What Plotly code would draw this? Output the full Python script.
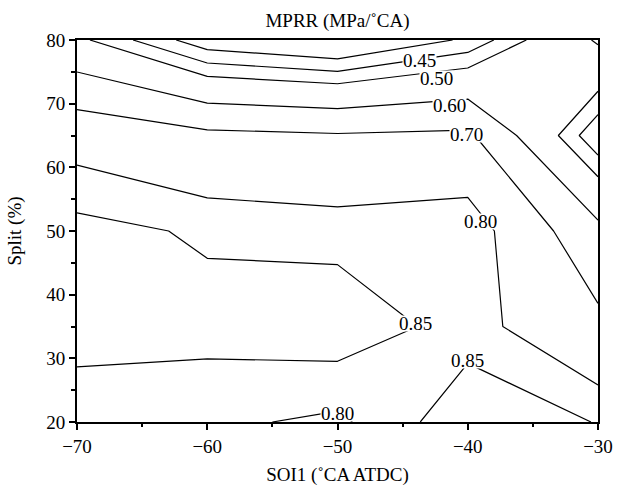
import plotly.graph_objects as go

# SOI1 (°CA ATDC) grid and Split (%) grid
soi1 = [-70, -60, -50, -40, -30]
split = [20, 35, 50, 65, 80]

# MPRR (MPa/°CA) values, one row per split value
mprr_split20 = [0.820, 0.811, 0.789, 0.885, 0.848]
mprr_split35 = [0.872, 0.870, 0.885, 0.828, 0.724]
mprr_split50 = [0.869, 0.842, 0.831, 0.845, 0.625]
mprr_split65 = [0.769, 0.721, 0.708, 0.717, 0.405]
mprr_split80 = [0.515, 0.364, 0.324, 0.410, 0.610]

# contour levels drawn in the chart
levels = [0.40, 0.45, 0.50, 0.60, 0.70, 0.80, 0.85]

# where the contour labels sit (label level, SOI1, Split)
label_level = [0.45, 0.50, 0.60, 0.70, 0.80, 0.85, 0.85, 0.80]
label_soi1 = [-43.7, -42.4, -41.4, -40.1, -39.0, -44.0, -40.0, -50.0]
label_split = [76.8, 74.0, 69.7, 65.1, 51.5, 35.5, 29.7, 21.3]

z = [mprr_split20, mprr_split35, mprr_split50, mprr_split65, mprr_split80]

FONT = "Liberation Serif"
fig = go.Figure()
for lv in levels:
    fig.add_trace(go.Contour(
        x=soi1, y=split, z=z,
        autocontour=False,
        contours=dict(start=lv, end=lv, size=0.05, coloring="none", showlabels=False),
        line=dict(color="black", width=1.2, smoothing=0),
        showscale=False, hoverinfo="skip",
    ))

for lv, lx, ly in zip(label_level, label_soi1, label_split):
    fig.add_annotation(x=lx, y=ly, xref="x", yref="y", text=f"{lv:.2f}",
                       showarrow=False, bgcolor="white", borderpad=0, height=15,
                       font=dict(family=FONT, size=19, color="black"))

axis_common = dict(showgrid=False, zeroline=False, showline=True, linecolor="black",
                   linewidth=2, mirror=True, ticks="outside", tickcolor="black",
                   tickwidth=1.5, ticklen=6, automargin=False,
                   tickfont=dict(family=FONT, size=19, color="black"))

fig.update_layout(
    width=617, height=487,
    margin=dict(l=77, r=19, t=40, b=65),
    paper_bgcolor="white", plot_bgcolor="white",
    showlegend=False,
    title=dict(text="MPRR (MPa/˚CA)", x=0.547, xanchor="center", y=0.958, yanchor="middle",
               yref="container", font=dict(family=FONT, size=19, color="black")),
    xaxis=dict(range=[-70, -30], tickmode="array", tickvals=[-70, -60, -50, -40, -30],
               minor=dict(dtick=5, tick0=-70, ticks="outside", ticklen=3, tickcolor="black", tickwidth=1.5),
               title=dict(text="SOI1 (˚CA ATDC)", font=dict(family=FONT, size=19, color="black"), standoff=12),
               **axis_common),
    yaxis=dict(range=[20, 80], tickmode="array", tickvals=[20, 30, 40, 50, 60, 70, 80],
               minor=dict(dtick=5, tick0=20, ticks="outside", ticklen=4, tickcolor="black", tickwidth=1.5),
               title=dict(text="Split (%)", font=dict(family=FONT, size=19, color="black"), standoff=20),
               **axis_common),
)

fig.write_html("out.html")
